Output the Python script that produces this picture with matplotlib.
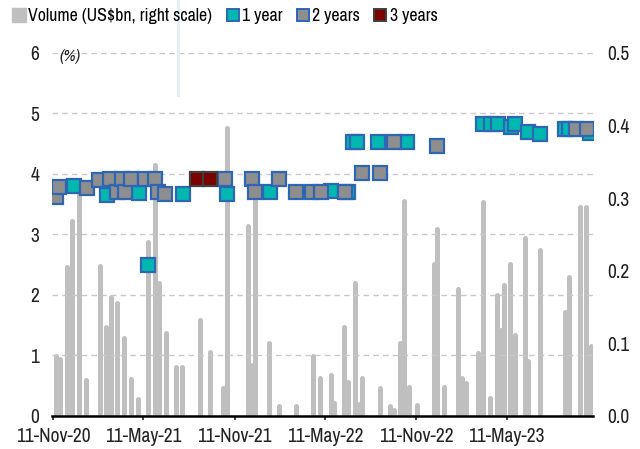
import matplotlib
matplotlib.use("Agg")
import matplotlib.pyplot as plt
import matplotlib.dates as mdates
from matplotlib.lines import Line2D
from matplotlib.patches import Patch
import numpy as np
import pandas as pd

plt.rcParams['font.family'] = ['Archivo Narrow', 'Liberation Sans', 'DejaVu Sans']

# volume bars (US$bn, right scale)
vol_dates = ["2020-11-17", "2020-11-25", "2020-12-09", "2020-12-19", "2021-01-02", "2021-01-16",
             "2021-02-14", "2021-02-26", "2021-03-08", "2021-03-20", "2021-04-03", "2021-04-17",
             "2021-05-01", "2021-05-21", "2021-06-04", "2021-06-12", "2021-06-26", "2021-07-16",
             "2021-07-28", "2021-09-03", "2021-09-23", "2021-10-19", "2021-10-27", "2021-12-08",
             "2021-12-16", "2021-12-22", "2022-01-19", "2022-02-08", "2022-03-15", "2022-04-18",
             "2022-05-02", "2022-05-24", "2022-05-30", "2022-06-19", "2022-06-27", "2022-07-11",
             "2022-07-17", "2022-07-25", "2022-08-29", "2022-09-18", "2022-09-26", "2022-10-08",
             "2022-10-16", "2022-10-28", "2022-11-13", "2022-12-17", "2022-12-23", "2023-01-06",
             "2023-02-03", "2023-02-11", "2023-02-18", "2023-03-14", "2023-03-24", "2023-04-07",
             "2023-04-21", "2023-04-29", "2023-05-05", "2023-05-17", "2023-05-27", "2023-06-16",
             "2023-06-22", "2023-07-18", "2023-09-05", "2023-09-13", "2023-10-05", "2023-10-17",
             "2023-10-27"]
volume = [0.083, 0.078, 0.205, 0.268, 0.320, 0.050,
          0.207, 0.122, 0.164, 0.156, 0.108, 0.051,
          0.023, 0.240, 0.346, 0.183, 0.114, 0.068,
          0.068, 0.132, 0.088, 0.038, 0.397, 0.262,
          0.070, 0.302, 0.101, 0.014, 0.014, 0.083,
          0.052, 0.057, 0.018, 0.122, 0.047, 0.183,
          0.017, 0.052, 0.038, 0.014, 0.008, 0.100,
          0.296, 0.040, 0.015, 0.209, 0.258, 0.040,
          0.175, 0.052, 0.046, 0.087, 0.295, 0.025,
          0.167, 0.119, 0.181, 0.209, 0.112, 0.245,
          0.076, 0.228, 0.143, 0.192, 0.288, 0.288,
          0.097]

# yields (%), left scale
y1_dates = ["2020-12-23", "2021-02-28", "2021-05-03", "2021-05-21", "2021-07-30", "2021-10-27",
            "2022-01-21", "2022-05-24", "2022-06-27", "2022-07-07", "2022-07-15", "2022-08-25",
            "2022-10-24", "2023-03-24", "2023-04-09", "2023-04-23", "2023-05-19", "2023-05-27",
            "2023-06-22", "2023-07-18", "2023-09-05", "2023-09-13", "2023-10-25"]
y1 = [3.80, 3.65, 3.68, 2.50, 3.67, 3.67,
      3.70, 3.72, 3.70, 4.53, 4.53, 4.53,
      4.53, 4.83, 4.82, 4.82, 4.78, 4.83,
      4.69, 4.66, 4.74, 4.74, 4.68]

y2_dates = ["2020-11-17", "2020-11-23", "2021-01-18", "2021-02-12", "2021-03-06", "2021-03-20",
            "2021-03-30", "2021-04-05", "2021-04-17", "2021-05-15", "2021-06-04", "2021-06-10",
            "2021-06-24", "2021-10-23", "2021-12-16", "2021-12-22", "2022-02-08", "2022-03-15",
            "2022-04-16", "2022-05-04", "2022-06-21", "2022-07-25", "2022-08-29", "2022-09-26",
            "2022-12-23", "2023-09-27", "2023-10-19"]
y2 = [3.62, 3.79, 3.77, 3.90, 3.92, 3.70,
      3.92, 3.70, 3.92, 3.92, 3.92, 3.70,
      3.67, 3.92, 3.92, 3.70, 3.92, 3.70,
      3.70, 3.70, 3.70, 4.02, 4.02, 4.53,
      4.46, 4.74, 4.74]

y3_dates = ["2021-08-28", "2021-09-23"]
y3 = [3.92, 3.92]

xtick_dates = ["2020-11-11", "2021-05-11", "2021-11-11", "2022-05-11", "2022-11-11", "2023-05-11"]

vd = pd.to_datetime(vol_dates)
d1 = pd.to_datetime(y1_dates)
d2 = pd.to_datetime(y2_dates)
d3 = pd.to_datetime(y3_dates)

fig = plt.figure(figsize=(6.4, 4.49), dpi=100)
ax = fig.add_axes([0.081, 0.0735, 0.846, 0.8085])
ax2 = ax.twinx()

# bars on the secondary axis, drawn underneath
ax.set_zorder(ax2.get_zorder() + 1)
ax.patch.set_visible(False)
ax2.vlines(vd, 0, volume, colors="#BFBFBF", linewidth=3.6, capstyle="round")
ax2.set_ylim(0, 0.5)
ax2.set_yticks(np.arange(0, 0.51, 0.1))
ax2.set_yticklabels(["0.0", "0.1", "0.2", "0.3", "0.4", "0.5"])

ms = 10.3
ax.plot(d1, y1, ls="none", marker="s", ms=ms, mfc="#00B8B0", mec="#2F66B3", mew=1.6)
ax.plot(d2, y2, ls="none", marker="s", ms=ms, mfc="#8E8E8E", mec="#2F66B3", mew=1.6)
ax.plot(d3, y3, ls="none", marker="s", ms=ms, mfc="#7B0000", mec="#3F3F3F", mew=1.6)

ax.set_ylim(0, 6)
ax.set_yticks(range(0, 7))
ax.set_xlim(pd.Timestamp("2020-11-09"), pd.Timestamp("2023-11-01"))
ax.set_xticks(pd.to_datetime(xtick_dates))
ax.xaxis.set_major_formatter(mdates.DateFormatter("%d-%b-%y"))

for a in (ax, ax2):
    for s in ("top", "left", "right"):
        a.spines[s].set_visible(False)
ax2.spines["bottom"].set_visible(False)
ax.spines["bottom"].set_linewidth(1.8)
ax.spines["bottom"].set_color("black")

ax.grid(axis="y", color="#C8C8C8", ls=(0, (4, 3)), lw=1.0)
ax.tick_params(axis="y", length=0, pad=9, labelsize=14, colors="#222222")
ax2.tick_params(axis="y", length=0, pad=10, labelsize=14, colors="#222222")
ax.tick_params(axis="x", length=3, width=1.2, pad=5, labelsize=14, colors="#222222")

ax.text(0.015, 1.012, "(%)", transform=ax.transAxes, ha="left", va="top",
        style="italic", fontsize=12, color="#222222")

# pale vertical stroke at the top of the image
fig.add_artist(Line2D([178 / 640, 178 / 640], [1.0, 1 - 95 / 449], transform=fig.transFigure,
                      color="#E3EFF3", lw=2.2))

handles = [
    Patch(facecolor="#BFBFBF", edgecolor="#BFBFBF", label="Volume (US$bn, right scale)"),
    Line2D([], [], ls="none", marker="s", ms=9, mfc="#00B8B0", mec="#2F66B3", mew=1.4, label="1 year"),
    Line2D([], [], ls="none", marker="s", ms=9, mfc="#8E8E8E", mec="#2F66B3", mew=1.4, label="2 years"),
    Line2D([], [], ls="none", marker="s", ms=9, mfc="#7B0000", mec="#3F3F3F", mew=1.4, label="3 years"),
]
fig.legend(handles=handles, loc="upper left", bbox_to_anchor=(0.002, 1.005), ncol=4, frameon=False,
           fontsize=12.8, handlelength=0.8, handleheight=0.8, handletextpad=0.12,
           columnspacing=0.75, borderaxespad=0.2)

fig.savefig("out.png", dpi=100)
